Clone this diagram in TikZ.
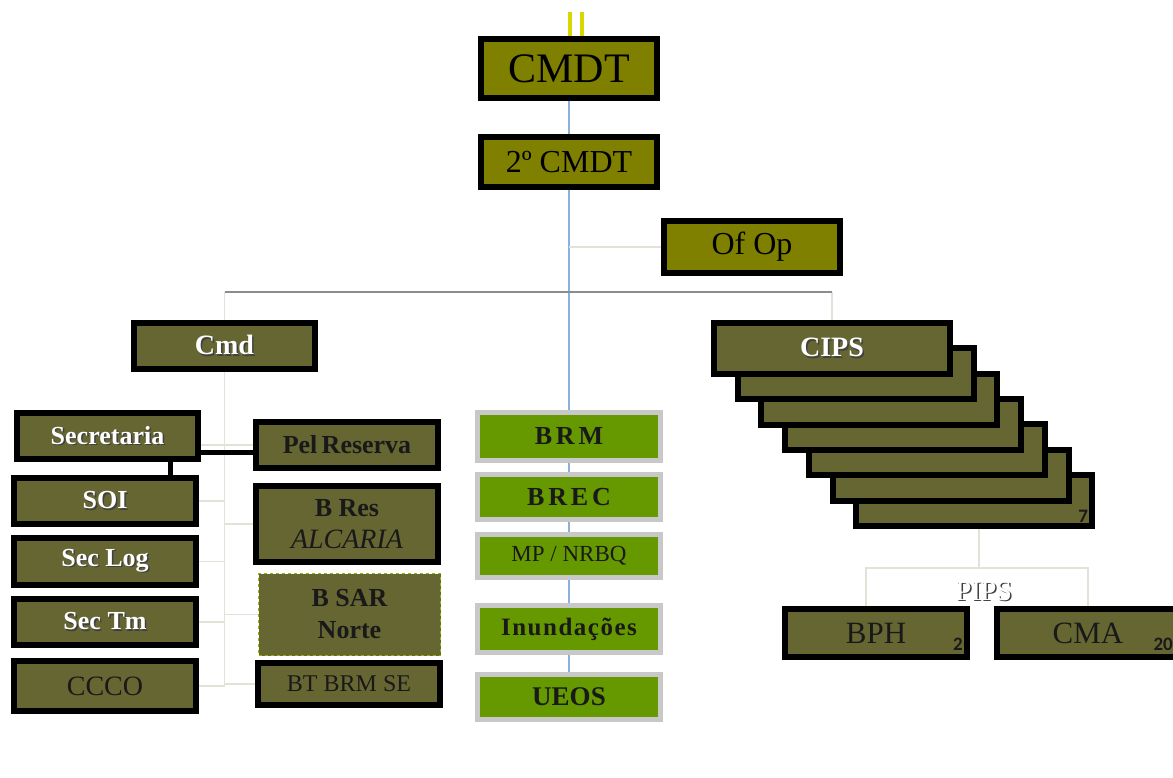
\documentclass[tikz,border=0pt]{standalone}
\usepackage{fontspec}
\setmainfont{Liberation Serif}
\newfontfamily\numfont{Carlito}
\usepackage{xcolor}
\usetikzlibrary{calc,backgrounds}
\definecolor{oliveA}{HTML}{808000}
\definecolor{oliveB}{HTML}{666633}
\definecolor{greenC}{HTML}{669900}
\definecolor{frameGray}{HTML}{C8C8C8}
\definecolor{lineLight}{HTML}{E2E2D6}
\definecolor{lineBlue}{HTML}{8AB0DE}
\definecolor{lineGray}{HTML}{8C8C8C}
\definecolor{yellowLine}{HTML}{D8D800}
\newcommand{\shadowed}[1]{\makebox[0pt][l]{\hspace{1.5pt}\raisebox{-1.5pt}{\color{black!75}#1}}#1}

\begin{document}
\begin{tikzpicture}[x=1pt,y=-1pt]
		\tikzset{unitbox/.style = {draw=black, line width=6pt, fill=oliveB, inner sep=0pt, minimum width=182pt, minimum height=#1, align=center}}
		\tikzset{topbox/.style = {unitbox=#1, minimum width=176pt, fill=oliveA, text=black}}
		\tikzset{cellbox/.style = {draw=frameGray, line width=5pt, fill=greenC, inner sep=0pt, minimum width=183pt, minimum height=#1, text=black!90}}
		\tikzset{wtxt/.style = {text=white, font=\fontsize{26}{30}\selectfont\bfseries}}
		\tikzset{btxt/.style = {text=black!90, font=\fontsize{26}{32}\selectfont\bfseries}}
		\tikzset{rtxt/.style = {text=black!90, font=\fontsize{28}{30}\selectfont}}
		\tikzset{numtxt/.style = {text=black!90, font=\numfont\bfseries\fontsize{19}{21}\selectfont, inner sep=0pt}}
		\tikzset{lightline/.style = {draw=lineLight, line width=1.5pt}}
		\tikzset{joinline/.style = {draw=black, line width=5pt}}

		\useasboundingbox (0,0) rectangle (1173,778);

		\node[topbox=59pt, font=\fontsize{42}{44}\selectfont] (cmdt) at (569,68.5) {CMDT};
		\node[topbox=50pt, font=\fontsize{32}{34}\selectfont] (cmdt2) at (569,162) {2º CMDT};
		\node[topbox=52pt, font=\fontsize{32}{34}\selectfont] (ofop) at (752,247) {Of Op};

		\node[unitbox=46pt, minimum width=181pt, wtxt, font=\fontsize{28}{30}\selectfont\bfseries] (cmd) at (224.5,346) {\shadowed{Cmd}};
		\node[unitbox=46pt, minimum width=181pt, wtxt] (secr) at (107.5,436) {\shadowed{Secretaria}};
		\node[unitbox=46pt, btxt] (pelres) at (347,445) {Pel\,Reserva};
		\node[unitbox=46pt, wtxt] (soi) at (105,501) {\shadowed{SOI}};
		\node[unitbox=47pt, wtxt] (seclog) at (105,561.5) {\shadowed{Sec Log}};
		\node[unitbox=46pt, wtxt] (sectm) at (105,622) {\shadowed{Sec Tm}};
		\node[unitbox=50pt, rtxt] (ccco) at (105,686) {CCCO};
		\node[unitbox=76pt, btxt] (bres) at (347,524) {B Res\\{\mdseries\itshape\fontsize{28}{32}\selectfont ALCARIA}};
		\node[unitbox=82pt, draw=greenC!70!yellow, line width=1pt, dashed, btxt] (bsar) at (349.5,614.5) {B SAR\\Norte};
		\node[unitbox=42pt, rtxt, font=\fontsize{24}{26}\selectfont] (btbrm) at (349,684) {BT BRM SE};

		\node[cellbox=48pt, font=\fontsize{26}{28}\selectfont\bfseries\addfontfeatures{LetterSpace=15}] (brm) at (569,436.5) {BRM};
		\node[cellbox=45pt, font=\fontsize{26}{28}\selectfont\bfseries\addfontfeatures{LetterSpace=15}] (brec) at (569,497) {BREC};
		\node[cellbox=43pt, font=\fontsize{23}{25}\selectfont] (mpnrbq) at (569,556) {MP / NRBQ};
		\node[cellbox=47pt, font=\fontsize{25}{27}\selectfont\bfseries\addfontfeatures{LetterSpace=6}] (inund) at (569,629) {Inundações};
		\node[cellbox=45pt, font=\fontsize{27}{29}\selectfont\bfseries] (ueos) at (569,697) {UEOS};

		\foreach \k in {6,5,...,1}
			\node[unitbox=51pt, minimum width=236pt] (cips\k) at (832+23.7*\k,348.5+25.3*\k) {};
		\node[unitbox=51pt, minimum width=236pt, wtxt, font=\fontsize{28}{30}\selectfont\bfseries] (cips0) at (832,348.5) {\shadowed{CIPS}};
		\node[numtxt, anchor=base east] (n7) at ($(cips6.south east)+(-7,-6)$) {7};

		\node[unitbox=48pt, rtxt, font=\fontsize{31}{33}\selectfont] (bph) at (876,633) {BPH};
		\node[unitbox=48pt, rtxt, font=\fontsize{31}{33}\selectfont] (cma) at (1088,633) {CMA};
		\node[numtxt, anchor=base east] (n2) at ($(bph.south east)+(-7,-10)$) {2};
		\node[numtxt, anchor=base east] (n20) at ($(cma.south east)+(-9,-10)$) {20};
		\node[text=white, font=\fontsize{28}{30}\selectfont, inner sep=0pt] (pipslbl) at (984,592) {\shadowed{PIPS}};

		\coordinate (ytop) at (576,12);
		\coordinate (bar) at (569,292);
		\coordinate (secjoint) at (170,452);
		\coordinate (pips) at (979,568);
		\coordinate (bphtop) at ($(bph.north)+(-10,0)$);

		\begin{scope}[on background layer]
			\fill[white] (0,0) rectangle (1173,778);
			\draw[yellowLine, line width=4pt, double=white, double distance=8pt] (ytop) -- (ytop |- cmdt.north);
			\draw[lineBlue, line width=2pt] (cmdt.south) -- (ueos.north);
			\draw[lightline] (cmdt2.south |- ofop.west) -- (ofop.west);
			\draw[lightline] (cmd.north) -- (cmd.north |- bar);
			\draw[lightline] (cips0.north) -- (cips0.north |- bar);
			\draw[lineGray, line width=1.5pt] (cmd.north |- bar) -- (cips0.north |- bar);
			\draw[lightline] (cmd.south) -- (cmd.south |- ccco.east);
			\draw[lightline] (pelres.west) -- (pelres.west -| secr.east);
			\foreach \n in {soi,seclog,sectm,ccco}
				\draw[lightline] (\n.east) -- (\n.east -| cmd.south);
			\foreach \n in {bres,bsar,btbrm}
				\draw[lightline] (\n.west) -- (\n.west -| cmd.south);
			\draw[joinline] (secr.east |- secjoint) -- (pelres.west |- secjoint);
			\draw[joinline] (secjoint |- secr.south) -- (secjoint |- soi.north);
			\draw[lightline] (cips6.south -| pips) -- (pips);
			\draw[lightline] (bphtop) |- (pips) -| (cma.north);
		\end{scope}

	\end{tikzpicture}
\end{document}
